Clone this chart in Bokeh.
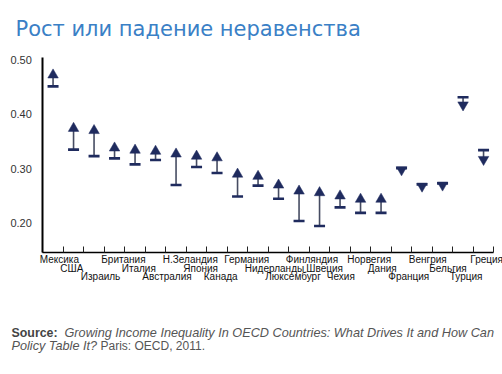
from bokeh.plotting import figure
from bokeh.models import (ColumnDataSource, Range1d, FixedTicker, Label, LabelSet,
                          CustomJSTickFormatter, LinearAxis)
from bokeh.core.properties import value
from bokeh.embed import file_html
from bokeh.resources import INLINE

countries = ["Мексика", "США", "Израиль", "Британия", "Италия", "Австралия",
             "Н.Зеландия", "Япония", "Канада", "Германия", "Нидерланды",
             "Люксембург", "Финляндия", "Швеция", "Чехия", "Норвегия", "Дания",
             "Франция", "Венгрия", "Бельгия", "Турция", "Греция"]
gini_start = [0.451, 0.335, 0.323, 0.319, 0.308, 0.316, 0.270, 0.303, 0.292, 0.249,
              0.269, 0.245, 0.204, 0.195, 0.229, 0.219, 0.219, 0.301, 0.271, 0.273,
              0.431, 0.334]
gini_end = [0.472, 0.374, 0.370, 0.338, 0.334, 0.332, 0.327, 0.323, 0.320, 0.290,
            0.286, 0.270, 0.259, 0.256, 0.250, 0.244, 0.244, 0.298, 0.268, 0.270,
            0.417, 0.317]
y_ticks = [0.20, 0.30, 0.40, 0.50]

NAVY = "#1f2b5e"
n = len(countries)
xc = [i + 0.5 for i in range(n)]
up = [e >= s for s, e in zip(gini_start, gini_end)]

src = ColumnDataSource(dict(
    x=xc, s=gini_start, e=gini_end,
    m=["triangle" if u else "inverted_triangle" for u in up],
))

# canvas geometry (pixels): category width, first tick x, y scale
W, H = 502, 374
CAT_W, X0 = 20.5, 42.3          # px per category, x of first tick
PX_PER_UNIT, Y_020 = 545.0, 222.7  # px per Gini unit, y of 0.20
Y_AXIS_BOTTOM, Y_AXIS_TOP = 0.1462, 0.504

x_range = Range1d(-X0 / CAT_W, (W - X0) / CAT_W)
y_range = Range1d(0.20 - (H - Y_020) / PX_PER_UNIT, 0.20 + Y_020 / PX_PER_UNIT)

p = figure(width=W, height=H, output_backend="svg", toolbar_location=None,
           x_range=x_range, y_range=y_range,
           x_axis_location=None, y_axis_location=None,
           min_border=0, min_border_left=0, min_border_right=0,
           min_border_top=0, min_border_bottom=0)
p.outline_line_color = None
p.grid.grid_line_color = None
p.background_fill_color = "white"
p.border_fill_color = "white"

# y axis
ya = LinearAxis(fixed_location=0, bounds=(Y_AXIS_BOTTOM, Y_AXIS_TOP))
ya.ticker = FixedTicker(ticks=y_ticks)
ya.formatter = CustomJSTickFormatter(code="return tick.toFixed(2)")
ya.axis_line_width = 2
ya.axis_line_color = "black"
ya.major_tick_line_color = None
ya.major_tick_out = 0
ya.major_tick_in = 0
ya.minor_tick_line_color = None
ya.major_label_standoff = 11
ya.major_label_text_font = "Liberation Sans"
ya.major_label_text_font_size = "11px"
ya.major_label_text_color = "#333333"
p.add_layout(ya, "left")

# x axis (ticks only)
xa = LinearAxis(fixed_location=Y_AXIS_BOTTOM, bounds=(0, n))
xa.ticker = FixedTicker(ticks=list(range(n + 1)))
xa.axis_line_width = 1.5
xa.axis_line_color = "black"
xa.major_tick_in = 6
xa.major_tick_out = 0
xa.major_tick_line_width = 1
xa.major_tick_line_color = "#222222"
xa.minor_tick_line_color = None
xa.major_label_text_color = None
p.add_layout(xa, "below")

# stems, base bars, triangles
p.segment(x0="x", y0="s", x1="x", y1="e", source=src, line_color="#464c62", line_width=1.6)
p.scatter(x="x", y="e", source=src, marker="m", size=10.5, fill_color=NAVY,
          line_color=NAVY, line_width=0.5)
p.scatter(x="x", y="s", source=src, marker="dash", size=11, line_color=NAVY,
          line_width=2.6)

# staggered country labels (canvas y)
row_y = [262.5, 271.0, 279.5]
lab = ColumnDataSource(dict(x=list(range(n)), y=[row_y[i % 3] for i in range(n)],
                            t=countries))
p.add_layout(LabelSet(x="x", y="y", y_units="canvas", text="t", source=lab,
                      x_offset=-3, text_align="left", text_baseline="alphabetic",
                      text_font=value("Liberation Sans"), text_font_size="10px",
                      text_color="#111111"))

# title
p.add_layout(Label(x=15, y=28.7, x_units="canvas", y_units="canvas",
                   text="Рост или падение неравенства", text_font="DejaVu Sans",
                   text_font_size="21px", text_color="#3a80c6",
                   text_baseline="alphabetic"))

# source note
common = dict(x_units="canvas", y_units="canvas", text_font="Liberation Sans",
              text_baseline="alphabetic")
p.add_layout(Label(x=11, y=332.3, text="Source:", text_font_style="bold",
                   text_font_size="12.4px", text_color="#444444", **common))
p.add_layout(Label(x=64, y=332.3,
                   text="Growing Income Inequality In OECD Countries: What Drives It and How Can",
                   text_font_style="italic", text_font_size="12.7px",
                   text_color="#555555", **common))
p.add_layout(Label(x=11, y=345, text="Policy Table It?", text_font_style="italic",
                   text_font_size="12.7px", text_color="#555555", **common))
p.add_layout(Label(x=100, y=345, text="Paris: OECD, 2011.", text_font_size="12px",
                   text_color="#555555", **common))

open("out.html", "w").write(file_html(p, INLINE))
